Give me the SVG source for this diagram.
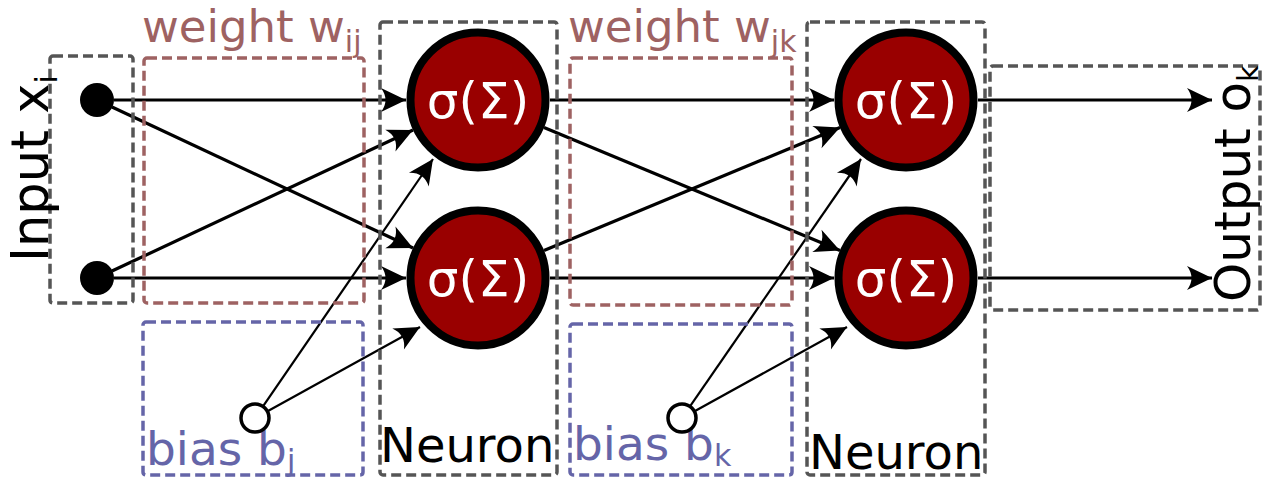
<svg xmlns="http://www.w3.org/2000/svg" width="1263" height="478" viewBox="0 0 1263 478">
<style>
.box{fill:none;stroke:#555;stroke-width:3.5;stroke-dasharray:10 5}
.wbox{fill:none;stroke:#9e6262;stroke-width:3.5;stroke-dasharray:10 5}
.bbox{fill:none;stroke:#6565a8;stroke-width:3.5;stroke-dasharray:10 5}
.lbl{font-family:"DejaVu Sans",sans-serif}
.neu{fill:#990000;stroke:#000;stroke-width:8}
.sig{font-family:"DejaVu Sans",sans-serif;font-size:50px;fill:#fff;text-anchor:middle}
.in{fill:#000}
.bias{fill:#fff;stroke:#000;stroke-width:3.5}
.c{stroke:#000;stroke-width:3.2;fill:none;marker-end:url(#ah)}
.ct{stroke:#000;stroke-width:2.2;fill:none;marker-end:url(#ah)}
</style>
<defs>
<marker id="ah" markerUnits="userSpaceOnUse" markerWidth="30" markerHeight="28" viewBox="-27 -14 30 28" refX="0" refY="0" orient="auto">
<path d="M0,0 L-25,-12 Q-16,0 -25,12 Z" fill="#000"/>
</marker>
</defs>
<rect width="1263" height="478" fill="#fff"/>

<g id="connectors">
<line class="c" x1="114" y1="100" x2="406" y2="100"/>
<line class="c" x1="112" y1="107" x2="413" y2="248"/>
<line class="c" x1="112" y1="271" x2="413" y2="130"/>
<line class="c" x1="114" y1="278" x2="406" y2="278"/>
<line class="ct" x1="263.5" y1="405.6" x2="433" y2="159"/>
<line class="ct" x1="268" y1="411" x2="420" y2="327"/>
<line class="c" x1="550" y1="100" x2="834" y2="100"/>
<line class="c" x1="544" y1="127.5" x2="840" y2="250.5"/>
<line class="c" x1="544" y1="250.5" x2="840" y2="127.5"/>
<line class="c" x1="550" y1="278" x2="834" y2="278"/>
<line class="ct" x1="690.5" y1="405.6" x2="861" y2="159"/>
<line class="ct" x1="695" y1="411" x2="847" y2="327"/>
<line class="c" x1="978" y1="100" x2="1212" y2="100"/>
<line class="c" x1="978" y1="278" x2="1212" y2="278"/>
</g>

<g id="input-layer">
<rect class="box" x="50" y="56" width="83" height="247" rx="3"/>
<text class="lbl" font-size="51" transform="translate(48,262) rotate(-90)">Input x<tspan font-size="30" dy="9">i</tspan></text>
<circle id="x1" class="in" cx="97" cy="100" r="17"/>
<circle id="x2" class="in" cx="97" cy="278" r="17"/>
</g>

<g id="weight-ij">
<rect class="wbox" x="144" y="58" width="220" height="245" rx="3"/>
<text class="lbl" font-size="45" fill="#9e6262" x="142" y="42">weight w<tspan font-size="30" dy="10">ij</tspan></text>
</g>

<g id="bias-j">
<rect class="bbox" x="143" y="322" width="220" height="153" rx="3"/>
<text class="lbl" font-size="47" fill="#6565a8" x="146" y="465">bias b<tspan font-size="30" dy="6">j</tspan></text>
<circle class="bias" cx="255" cy="418" r="14"/>
</g>

<g id="neuron-layer-1">
<rect class="box" x="380" y="22" width="177" height="453" rx="3"/>
<text class="lbl" font-size="48" x="380" y="462">Neuron</text>
<g id="n1"><circle class="neu" cx="478" cy="100" r="67.5"/><text class="sig" x="478" y="118">σ(Σ)</text></g>
<g id="n2"><circle class="neu" cx="478" cy="278" r="67.5"/><text class="sig" x="478" y="296">σ(Σ)</text></g>
</g>

<g id="weight-jk">
<rect class="wbox" x="570" y="58" width="222" height="247" rx="3"/>
<text class="lbl" font-size="45" fill="#9e6262" x="568" y="42">weight w<tspan font-size="30" dy="10">jk</tspan></text>
</g>

<g id="bias-k">
<rect class="bbox" x="570" y="324" width="222" height="151" rx="3"/>
<text class="lbl" font-size="47" fill="#6565a8" x="573" y="460">bias b<tspan font-size="30" dy="6">k</tspan></text>
<circle class="bias" cx="682" cy="418" r="14"/>
</g>

<g id="neuron-layer-2">
<rect class="box" x="807" y="22" width="178" height="453" rx="3"/>
<text class="lbl" font-size="48" x="809" y="469">Neuron</text>
<g id="n3"><circle class="neu" cx="906" cy="100" r="67.5"/><text class="sig" x="906" y="118">σ(Σ)</text></g>
<g id="n4"><circle class="neu" cx="906" cy="278" r="67.5"/><text class="sig" x="906" y="296">σ(Σ)</text></g>
</g>

<g id="output-layer">
<rect class="box" x="990" y="66" width="270" height="244" rx="3"/>
<text class="lbl" font-size="50" transform="translate(1250,302) rotate(-90)">Output o<tspan font-size="28" dy="8">k</tspan></text>
</g>
</svg>
